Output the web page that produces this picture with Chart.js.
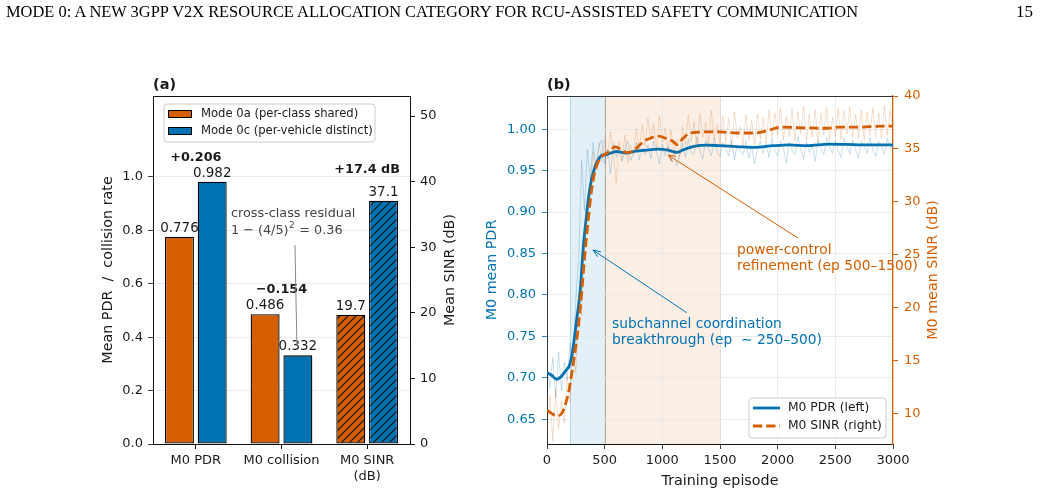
<!DOCTYPE html>
<html>
<head>
<meta charset="utf-8">
<script src="https://cdn.jsdelivr.net/npm/chart.js@4.4.1/dist/chart.umd.min.js"></script>
<style>
  html, body { margin: 0; padding: 0; background: #fff; }
  body { width: 1041px; height: 496px; position: relative; overflow: hidden; }
  .hdr { position: absolute; top: 3px; font: 17px "Liberation Serif", serif; line-height: 17px; color: #000; white-space: nowrap; z-index: 2; }
  #header { left: 6px; transform-origin: 0 0; }
  #page { right: 8px; }
  #wrapA { position: absolute; left: 0; top: 0; width: 470px; height: 496px; }
  #wrapB { position: absolute; left: 470px; top: 0; width: 571px; height: 496px; }
</style>
</head>
<body>
<div class="hdr" id="header">MODE 0: A NEW 3GPP V2X RESOURCE ALLOCATION CATEGORY FOR RCU-ASSISTED SAFETY COMMUNICATION</div>
<div class="hdr" id="page">15</div>
<div id="wrapA"><canvas id="chartA" width="470" height="496"></canvas></div>
<div id="wrapB"><canvas id="chartB" width="571" height="496"></canvas></div>
<script>
// ---- panel (a) data ----
const barCategories = [['M0 PDR'], ['M0 collision'], ['M0 SINR', '(dB)']];
const modeNames = ['Mode 0a (per-class shared)', 'Mode 0c (per-vehicle distinct)'];
const mode0aRates = [0.776, 0.486, null];
const mode0cRates = [0.982, 0.332, null];
const mode0aSinr = [null, null, 19.7];
const mode0cSinr = [null, null, 37.1];
const rateTicks = [0, 0.2, 0.4, 0.6, 0.8, 1.0];
const sinrBarTicks = [0, 10, 20, 30, 40, 50];

// ---- panel (b) data ----
const pdrEpisodes = [0, 40, 84, 120, 160, 200, 228, 257, 286, 315, 338, 358, 380, 400, 420, 445, 470, 503, 550, 604, 650, 690, 750, 806, 880, 962, 1040, 1093, 1125, 1180, 1240, 1310, 1385, 1500, 1645, 1800, 1962, 2100, 2250, 2450, 2600, 2750, 2945, 3000];
const pdrSmooth = [0.706, 0.703, 0.698, 0.701, 0.708, 0.717, 0.738, 0.770, 0.802, 0.858, 0.890, 0.915, 0.935, 0.947, 0.956, 0.963, 0.968, 0.969, 0.971, 0.973, 0.972, 0.971, 0.973, 0.974, 0.975, 0.9758, 0.975, 0.973, 0.972, 0.975, 0.978, 0.980, 0.9807, 0.980, 0.979, 0.978, 0.980, 0.981, 0.980, 0.982, 0.9815, 0.981, 0.981, 0.981];
const sinrEpisodes = [0, 40, 84, 120, 142, 185, 228, 272, 300, 329, 358, 373, 401, 445, 488, 503, 546, 590, 633, 690, 748, 806, 850, 893, 965, 1030, 1093, 1125, 1180, 1240, 1385, 1500, 1645, 1790, 1900, 1962, 2020, 2200, 2425, 2540, 2700, 2800, 2945, 3000];
const sinrSmooth = [10.3, 10.0, 9.75, 9.9, 10.3, 11.9, 14.7, 18.2, 21.35, 25.1, 28.3, 29.9, 32.1, 33.8, 34.4, 34.5, 34.8, 35.2, 35.0, 34.65, 34.8, 35.4, 35.8, 36.0, 36.2, 36.0, 35.7, 35.4, 36.0, 36.5, 36.6, 36.6, 36.5, 36.5, 36.7, 36.9, 37.05, 37.0, 36.95, 37.05, 37.05, 37.1, 37.15, 37.15];
const rawEpisodes = [0, 25, 50, 75, 100, 125, 150, 175, 200, 225, 250, 275, 300, 325, 350, 375, 400, 425, 450, 475,
  500, 525, 550, 575, 600, 625, 650, 675, 700, 725, 750, 775, 800, 825, 850, 875, 900, 925, 950, 975,
  1000, 1025, 1050, 1075, 1100, 1125, 1150, 1175, 1200, 1225, 1250, 1275, 1300, 1325, 1350, 1375, 1400, 1425, 1450, 1475,
  1500, 1525, 1550, 1575, 1600, 1625, 1650, 1675, 1700, 1725, 1750, 1775, 1800, 1825, 1850, 1875, 1900, 1925, 1950, 1975,
  2000, 2025, 2050, 2075, 2100, 2125, 2150, 2175, 2200, 2225, 2250, 2275, 2300, 2325, 2350, 2375, 2400, 2425, 2450, 2475,
  2500, 2525, 2550, 2575, 2600, 2625, 2650, 2675, 2700, 2725, 2750, 2775, 2800, 2825, 2850, 2875, 2900, 2925, 2950, 2975, 3000];
const pdrRaw = [0.712, 0.688, 0.724, 0.676, 0.731, 0.684, 0.719, 0.698, 0.742, 0.716, 0.795, 0.842, 0.962, 0.902, 0.975, 0.938, 0.984, 0.955, 0.979, 0.987,
  0.958, 0.976, 0.946, 0.983, 0.966, 0.979, 0.961, 0.974, 0.986, 0.962, 0.971, 0.984, 0.963, 0.977, 0.969, 0.981, 0.964, 0.986, 0.972, 0.958,
  0.982, 0.968, 0.979, 0.961, 0.975, 0.956, 0.968, 0.983, 0.966, 0.988, 0.972, 0.969, 0.991, 0.974, 0.964, 0.986, 0.976, 0.968, 0.989, 0.973,
  0.967, 0.984, 0.977, 0.968, 0.987, 0.963, 0.981, 0.974, 0.969, 0.986, 0.965, 0.979, 0.958, 0.976, 0.985, 0.971, 0.982, 0.966, 0.989, 0.974,
  0.968, 0.986, 0.977, 0.959, 0.984, 0.975, 0.969, 0.991, 0.976, 0.964, 0.985, 0.972, 0.981, 0.961, 0.987, 0.976, 0.969, 0.990, 0.979, 0.971,
  0.986, 0.974, 0.966, 0.989, 0.981, 0.970, 0.987, 0.976, 0.965, 0.986, 0.980, 0.971, 0.990, 0.975, 0.967, 0.985, 0.979, 0.970, 0.989, 0.976, 0.981];
const sinrRaw = [8.2, 11.6, 7.4, 12.3, 8.6, 11.2, 9.1, 13.4, 11.0, 16.3, 13.8, 21.4, 19.2, 27.3, 29.6, 31.2, 34.7, 32.9, 35.6, 33.8,
  35.9, 34.1, 36.6, 34.6, 31.8, 35.7, 33.9, 36.3, 33.6, 35.4, 34.4, 36.9, 34.9, 37.3, 35.2, 37.9, 35.8, 37.4, 35.0, 38.1,
  35.6, 37.0, 34.7, 36.8, 34.4, 35.9, 34.1, 37.1, 35.4, 38.2, 35.7, 37.6, 35.1, 38.4, 36.1, 37.5, 35.3, 38.6, 35.9, 37.3,
  35.5, 38.1, 35.4, 37.9, 35.1, 38.5, 36.0, 37.1, 35.3, 38.2, 35.8, 37.7, 35.4, 38.3, 35.9, 38.0, 35.5, 38.7, 36.1, 38.4,
  36.3, 38.9, 35.8, 38.1, 36.2, 38.8, 35.7, 38.5, 36.4, 39.0, 35.8, 38.3, 36.1, 38.7, 35.6, 38.4, 36.3, 38.9, 35.8, 38.0,
  36.2, 38.8, 35.9, 38.6, 36.4, 39.0, 36.1, 38.3, 36.0, 38.7, 35.8, 38.5, 36.3, 38.9, 36.1, 38.4, 36.0, 39.1, 36.3, 38.6, 36.9];
const episodeTicks = [0, 500, 1000, 1500, 2000, 2500, 3000];
const pdrTicks = [0.65, 0.70, 0.75, 0.80, 0.85, 0.90, 0.95, 1.00];
const sinrTicks = [10, 15, 20, 25, 30, 35, 40];
const phaseSpans = [[200, 500], [500, 1500]];

const BLUE = '#0072B2';
const ORANGE = '#D55E00';
const INK = '#1a1a1a';
const GRID = '#e6e6e6';
const FAM = '"DejaVu Sans", sans-serif';
Chart.defaults.font.family = FAM;
Chart.defaults.color = INK;

function toPairs(xs, ys) { return xs.map((x, i) => ({ x: x, y: ys[i] })); }

function hatch(color) {
  const c = document.createElement('canvas');
  c.width = 8; c.height = 8;
  const g = c.getContext('2d');
  g.fillStyle = color; g.fillRect(0, 0, 8, 8);
  g.strokeStyle = '#111'; g.lineWidth = 1.1;
  g.beginPath();
  g.moveTo(0, 8); g.lineTo(8, 0);
  g.moveTo(-1, 1); g.lineTo(1, -1);
  g.moveTo(7, 9); g.lineTo(9, 7);
  g.stroke();
  return g.createPattern(c, 'repeat');
}

function txt(ctx, s, x, y, o) {
  o = o || {};
  ctx.save();
  ctx.font = o.font || ('13px ' + FAM);
  ctx.fillStyle = o.color || INK;
  ctx.textAlign = o.align || 'center';
  ctx.textBaseline = o.base || 'middle';
  ctx.translate(x, y);
  if (o.rot) ctx.rotate(o.rot);
  ctx.fillText(s, 0, 0);
  ctx.restore();
}

function arrow(ctx, x0, y0, x1, y1, color) {
  ctx.save();
  ctx.strokeStyle = color; ctx.lineWidth = 1;
  ctx.beginPath(); ctx.moveTo(x0, y0); ctx.lineTo(x1, y1); ctx.stroke();
  const a = Math.atan2(y1 - y0, x1 - x0), L = 8, w = 0.38;
  ctx.beginPath();
  ctx.moveTo(x1 - L * Math.cos(a - w), y1 - L * Math.sin(a - w));
  ctx.lineTo(x1, y1);
  ctx.lineTo(x1 - L * Math.cos(a + w), y1 - L * Math.sin(a + w));
  ctx.stroke();
  ctx.restore();
}

function legendBox(ctx, x, y, w, h) {
  ctx.save();
  ctx.beginPath();
  ctx.roundRect(x, y, w, h, 3);
  ctx.fillStyle = 'rgba(255,255,255,0.85)';
  ctx.fill();
  ctx.strokeStyle = '#cccccc'; ctx.lineWidth = 1;
  ctx.stroke();
  ctx.restore();
}

function fixTicks(list) {
  return function (scale) { scale.ticks = list.map(v => ({ value: v })); };
}

// ---------------- panel (a) ----------------
const residualNote = { lines: ['cross-class residual', '1 − (4/5)', '2', ' = 0.36'], at: [0.41, 0.861], from: [1.157, 0.745], to: [1.18, 0.367] };

const panelA = {
  id: 'panelA',
  afterDatasetsDraw(chart) {
    const ctx = chart.ctx;
    const area = chart.chartArea;
    const xs = chart.scales.x, ys = chart.scales.y, ys2 = chart.scales.y2;
    const catX = t => xs.getPixelForValue(0) + t * (xs.getPixelForValue(1) - xs.getPixelForValue(0));
    const valFont = '13.5px ' + FAM;
    const boldFont = 'bold 12.8px ' + FAM;

    // top spine
    ctx.save();
    ctx.strokeStyle = '#111'; ctx.lineWidth = 1;
    ctx.beginPath(); ctx.moveTo(area.left, area.top + 0.5); ctx.lineTo(area.right, area.top + 0.5); ctx.stroke();
    ctx.restore();

    // value labels on top of bars
    chart.data.datasets.forEach((ds, di) => {
      const meta = chart.getDatasetMeta(di);
      meta.data.forEach((bar, i) => {
        const v = ds.data[i];
        if (v == null) return;
        const s = ds.yAxisID === 'y2' ? v.toFixed(1) : v.toFixed(3);
        txt(ctx, s, bar.x, bar.y - 5, { font: valFont, base: 'alphabetic' });
      });
    });

    // deltas between modes
    for (let i = 0; i < 2; i++) {
      const a = mode0aRates[i], c = mode0cRates[i], d = c - a;
      const s = (d >= 0 ? '+' : '−') + Math.abs(d).toFixed(3);
      txt(ctx, s, xs.getPixelForValue(i), ys.getPixelForValue(Math.max(a, c) + 0.09), { font: boldFont });
    }
    const dS = mode0cSinr[2] - mode0aSinr[2];
    txt(ctx, '+' + dS.toFixed(1) + ' dB', xs.getPixelForValue(2), ys2.getPixelForValue(Math.max(mode0aSinr[2], mode0cSinr[2]) + 4.7), { font: boldFont });

    // cross-class residual note
    const nx = catX(residualNote.at[0]), ny = ys.getPixelForValue(residualNote.at[1]);
    const noteFont = '12.8px ' + FAM, noteCol = '#444';
    txt(ctx, residualNote.lines[0], nx, ny, { font: noteFont, color: noteCol, align: 'left' });
    ctx.save();
    ctx.font = noteFont;
    const w1 = ctx.measureText(residualNote.lines[1]).width;
    ctx.font = '9px ' + FAM;
    const w2 = ctx.measureText(residualNote.lines[2]).width;
    ctx.restore();
    txt(ctx, residualNote.lines[1], nx, ny + 16.5, { font: noteFont, color: noteCol, align: 'left' });
    txt(ctx, residualNote.lines[2], nx + w1 + 0.5, ny + 11.5, { font: '9px ' + FAM, color: noteCol, align: 'left' });
    txt(ctx, residualNote.lines[3], nx + w1 + w2 + 1, ny + 16.5, { font: noteFont, color: noteCol, align: 'left' });
    ctx.save();
    ctx.strokeStyle = '#888'; ctx.lineWidth = 1;
    ctx.beginPath();
    ctx.moveTo(catX(residualNote.from[0]), ys.getPixelForValue(residualNote.from[1]));
    ctx.lineTo(catX(residualNote.to[0]), ys.getPixelForValue(residualNote.to[1]));
    ctx.stroke();
    ctx.restore();

    // legend
    const lx = area.left + 11, ly = area.top + 8;
    legendBox(ctx, lx, ly, 211, 38);
    [0, 1].forEach(k => {
      const ds = chart.data.datasets[k];
      const cy = ly + 10 + k * 17;
      ctx.save();
      ctx.fillStyle = ds.backgroundColor; ctx.strokeStyle = ds.borderColor; ctx.lineWidth = 1;
      ctx.fillRect(lx + 4, cy - 4, 24, 8);
      ctx.strokeRect(lx + 4.5, cy - 3.5, 23, 7);
      ctx.restore();
      txt(ctx, ds.label, lx + 37, cy, { font: '11.6px ' + FAM, align: 'left' });
    });

    // titles
    txt(ctx, '(a)', area.left, 85, { font: 'bold 14.5px ' + FAM, align: 'left' });
    const midY = (area.top + area.bottom) / 2;
    txt(ctx, 'Mean PDR  /  collision rate', 108, midY, { font: '14.3px ' + FAM, rot: -Math.PI / 2 });
    txt(ctx, 'Mean SINR (dB)', 450, midY, { font: '14.3px ' + FAM, rot: -Math.PI / 2 });
  }
};

const barCommon = { borderColor: '#000', borderWidth: 1.3, borderSkipped: false, categoryPercentage: 0.765, barPercentage: 0.884 };

new Chart(document.getElementById('chartA'), {
  type: 'bar',
  data: {
    labels: barCategories,
    datasets: [
      Object.assign({ label: modeNames[0], data: mode0aRates, backgroundColor: ORANGE, yAxisID: 'y', stack: 'a' }, barCommon),
      Object.assign({ label: modeNames[1], data: mode0cRates, backgroundColor: BLUE, yAxisID: 'y', stack: 'c' }, barCommon),
      Object.assign({ label: modeNames[0] + ' SINR', data: mode0aSinr, backgroundColor: hatch(ORANGE), yAxisID: 'y2', stack: 'a' }, barCommon),
      Object.assign({ label: modeNames[1] + ' SINR', data: mode0cSinr, backgroundColor: hatch(BLUE), yAxisID: 'y2', stack: 'c' }, barCommon)
    ]
  },
  options: {
    responsive: false,
    animation: false,
    events: [],
    layout: { padding: { top: 96, left: 0, right: 0, bottom: 0 } },
    plugins: { legend: { display: false }, tooltip: { enabled: false } },
    scales: {
      x: {
        offset: true,
        afterFit(s) { s.height = 52; },
        grid: { offset: false, drawOnChartArea: false, tickLength: 5, tickColor: '#111' },
        border: { color: '#111', width: 1 },
        ticks: { font: { size: 13 }, color: INK, padding: 4, maxRotation: 0 }
      },
      y: {
        position: 'left', min: 0, max: 1.303,
        afterBuildTicks: fixTicks(rateTicks),
        afterFit(s) { s.width = 153; },
        grid: { color: GRID, lineWidth: 0.8, tickLength: 5, tickColor: '#111' },
        border: { color: '#111', width: 1 },
        ticks: { font: { size: 13 }, color: INK, padding: 5, callback: v => Number(v).toFixed(1) }
      },
      y2: {
        position: 'right', min: 0, max: 53.05,
        afterBuildTicks: fixTicks(sinrBarTicks),
        afterFit(s) { s.width = 60; },
        grid: { drawOnChartArea: false, tickLength: 5, tickColor: '#111' },
        border: { color: '#111', width: 1 },
        ticks: { font: { size: 13 }, color: INK, padding: 5, callback: v => String(v) }
      }
    }
  },
  plugins: [panelA]
});

// ---------------- panel (b) ----------------
const notes = [
  { lines: ['power-control', 'refinement (ep 500–1500)'], at: [1647, 0.854], tail: [2176, 0.8686], head: [1049, 0.9688], color: ORANGE },
  { lines: ['subchannel coordination', 'breakthrough (ep  ∼ 250–500)'], at: [564, 0.7648], tail: [1211, 0.7785], head: [399, 0.854], color: BLUE }
];

const panelB = {
  id: 'panelB',
  beforeDraw(chart) {
    const ctx = chart.ctx, area = chart.chartArea, xs = chart.scales.x;
    const fills = ['rgba(0,114,178,0.11)', 'rgba(213,94,0,0.10)'];
    const edges = ['rgba(0,114,178,0.22)', 'rgba(120,90,70,0.35)'];
    phaseSpans.forEach((sp, k) => {
      const x0 = xs.getPixelForValue(sp[0]), x1 = xs.getPixelForValue(sp[1]);
      ctx.save();
      ctx.fillStyle = fills[k];
      ctx.fillRect(x0, area.top, x1 - x0, area.bottom - area.top);
      ctx.strokeStyle = edges[k]; ctx.lineWidth = 1;
      ctx.beginPath();
      ctx.moveTo(Math.round(x0) + 0.5, area.top); ctx.lineTo(Math.round(x0) + 0.5, area.bottom);
      ctx.moveTo(Math.round(x1) + 0.5, area.top); ctx.lineTo(Math.round(x1) + 0.5, area.bottom);
      ctx.stroke();
      ctx.restore();
    });
  },
  afterDatasetsDraw(chart) {
    const ctx = chart.ctx, area = chart.chartArea;
    const xs = chart.scales.x, ys = chart.scales.y;
    const px = p => [xs.getPixelForValue(p[0]), ys.getPixelForValue(p[1])];

    ctx.save();
    ctx.strokeStyle = '#333'; ctx.lineWidth = 1;
    ctx.beginPath(); ctx.moveTo(area.left, area.top + 0.5); ctx.lineTo(area.right, area.top + 0.5); ctx.stroke();
    ctx.restore();

    notes.forEach(n => {
      const t = px(n.tail), h = px(n.head), a = px(n.at);
      arrow(ctx, t[0], t[1], h[0], h[1], n.color);
      n.lines.forEach((s, k) => txt(ctx, s, a[0], a[1] + k * 16, { font: '13.8px ' + FAM, color: n.color, align: 'left' }));
    });

    // legend (lower right)
    const w = 137, hgt = 40;
    const lx = area.right - 7 - w, ly = area.bottom - 6 - hgt;
    legendBox(ctx, lx, ly, w, hgt);
    [1, 3].forEach((di, k) => {
      const ds = chart.data.datasets[di];
      const cy = ly + 10 + k * 18;
      ctx.save();
      ctx.strokeStyle = ds.borderColor; ctx.lineWidth = ds.borderWidth;
      ctx.setLineDash(ds.borderDash || []);
      ctx.beginPath(); ctx.moveTo(lx + 4, cy); ctx.lineTo(lx + 31, cy); ctx.stroke();
      ctx.restore();
      txt(ctx, ds.label, lx + 39, cy, { font: '12.3px ' + FAM, align: 'left' });
    });

    txt(ctx, '(b)', area.left, 85, { font: 'bold 14.5px ' + FAM, align: 'left' });
    const midY = (area.top + area.bottom) / 2;
    txt(ctx, 'M0 mean PDR', 22, midY, { font: '14.3px ' + FAM, color: BLUE, rot: -Math.PI / 2 });
    txt(ctx, 'M0 mean SINR (dB)', 463, midY, { font: '14.3px ' + FAM, color: ORANGE, rot: -Math.PI / 2 });
    txt(ctx, 'Training episode', (area.left + area.right) / 2, 481, { font: '14.3px ' + FAM });
  }
};

new Chart(document.getElementById('chartB'), {
  type: 'line',
  data: {
    datasets: [
      { label: 'M0 PDR raw', data: toPairs(rawEpisodes, pdrRaw), yAxisID: 'y', borderColor: 'rgba(0,114,178,0.22)', borderWidth: 1, pointRadius: 0, order: 3 },
      { label: 'M0 PDR (left)', data: toPairs(pdrEpisodes, pdrSmooth), yAxisID: 'y', borderColor: BLUE, borderWidth: 2.8, pointRadius: 0, cubicInterpolationMode: 'monotone', order: 2 },
      { label: 'M0 SINR raw', data: toPairs(rawEpisodes, sinrRaw), yAxisID: 'y2', borderColor: 'rgba(213,94,0,0.2)', borderWidth: 1, pointRadius: 0, order: 1 },
      { label: 'M0 SINR (right)', data: toPairs(sinrEpisodes, sinrSmooth), yAxisID: 'y2', borderColor: ORANGE, borderWidth: 2.8, borderDash: [9.25, 4], pointRadius: 0, cubicInterpolationMode: 'monotone', order: 0 }
    ]
  },
  options: {
    responsive: false,
    animation: false,
    events: [],
    layout: { padding: { top: 96, left: 0, right: 0, bottom: 0 } },
    plugins: { legend: { display: false }, tooltip: { enabled: false } },
    scales: {
      x: {
        type: 'linear', min: 0, max: 3000,
        afterBuildTicks: fixTicks(episodeTicks),
        afterFit(s) { s.height = 52; },
        grid: { color: GRID, lineWidth: 0.8, tickLength: 5, tickColor: '#111' },
        border: { color: '#111', width: 1 },
        ticks: { font: { size: 13 }, color: INK, padding: 4, maxRotation: 0, callback: v => String(v) }
      },
      y: {
        position: 'left', min: 0.62, max: 1.04,
        afterBuildTicks: fixTicks(pdrTicks),
        afterFit(s) { s.width = 77; },
        grid: { color: GRID, lineWidth: 0.8, tickLength: 5, tickColor: BLUE },
        border: { color: '#333', width: 1 },
        ticks: { font: { size: 13 }, color: BLUE, padding: 6, callback: v => Number(v).toFixed(2) }
      },
      y2: {
        position: 'right', min: 7.1, max: 40,
        afterBuildTicks: fixTicks(sinrTicks),
        afterFit(s) { s.width = 148; },
        grid: { drawOnChartArea: false, tickLength: 5, tickColor: ORANGE },
        border: { color: ORANGE, width: 1.2 },
        ticks: { font: { size: 13 }, color: ORANGE, padding: 6, callback: v => String(v) }
      }
    }
  },
  plugins: [panelB]
});

// squeeze running header to the printed width
const hdr = document.getElementById('header');
hdr.style.transform = 'scaleX(' + (852 / hdr.getBoundingClientRect().width) + ')';
</script>
</body>
</html>
